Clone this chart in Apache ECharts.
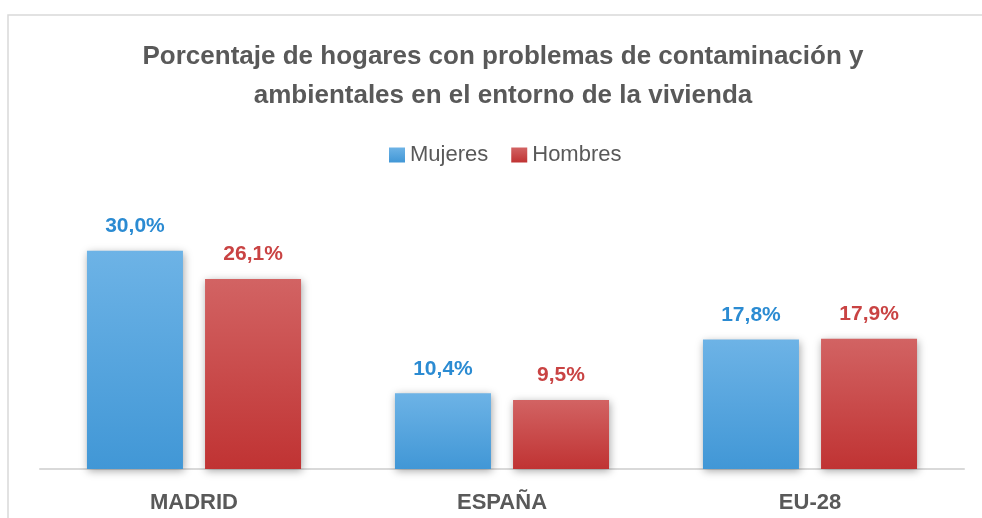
<!DOCTYPE html>
<html>
<head>
<meta charset="utf-8">
<script src="https://cdn.jsdelivr.net/npm/echarts@6/dist/echarts.min.js"></script>
<style>
	html, body { margin: 0; padding: 0; background: #fff; }
	#chart { width: 982px; height: 518px; }
</style>
</head>
<body>
<div id="chart"></div>
<script>
var categories = ['MADRID', 'ESPAÑA', 'EU-28'];
var mujeres = [30.0, 10.4, 17.8];
var hombres = [26.1, 9.5, 17.9];
var seriesNames = ['Mujeres', 'Hombres'];

var font = '"Liberation Sans Narrow", "Arial Narrow", "Liberation Sans", sans-serif';

function fmt(p) {
	return p.value.toFixed(1).replace('.', ',') + '%';
}

function grad(top, bottom) {
	return new echarts.graphic.LinearGradient(0, 0, 0, 1, [
		{ offset: 0, color: top },
		{ offset: 1, color: bottom }
	]);
}

var myChart = echarts.init(document.getElementById('chart'));
myChart.setOption({
	backgroundColor: '#fff',
	animation: false,
	graphic: [{
		type: 'rect',
		shape: { x: 8, y: 15, width: 1000, height: 600 },
		style: { fill: 'none', stroke: '#d9d9d9', lineWidth: 1.5 },
		silent: true
	}],
	title: {
		text: 'Porcentaje de hogares con problemas de contaminación y\nambientales en el entorno de la vivienda',
		left: 503,
		textAlign: 'center',
		top: 37,
		padding: 0,
		textStyle: {
			fontFamily: font,
			fontSize: 26,
			fontWeight: 'bold',
			color: '#595959',
			lineHeight: 39
		}
	},
	legend: {
		data: seriesNames,
		left: 384,
		top: 139,
		itemWidth: 16,
		itemHeight: 15,
		itemGap: 23,
		icon: 'rect',
		textStyle: { fontFamily: font, fontSize: 22, color: '#595959' }
	},
	grid: { left: 40, right: 18, top: 178, bottom: 49 },
	xAxis: {
		type: 'category',
		data: categories,
		axisLine: { lineStyle: { color: '#d9d9d9', width: 2 } },
		axisTick: { show: false },
		axisLabel: {
			margin: 23,
			fontFamily: font,
			fontSize: 22,
			fontWeight: 'bold',
			color: '#595959'
		}
	},
	yAxis: {
		type: 'value',
		min: 0,
		max: 40,
		show: false,
		splitLine: { show: false }
	},
	series: [{
		name: seriesNames[0],
		type: 'bar',
		data: mujeres,
		barWidth: 96,
		barGap: '23%',
		itemStyle: {
			color: grad('#6db3e6', '#4197d6'),
			shadowColor: 'rgba(0,0,0,0.35)',
			shadowBlur: 8,
			shadowOffsetX: 1,
			shadowOffsetY: 2
		},
		label: {
			show: true,
			position: 'top',
			distance: 14,
			formatter: fmt,
			fontFamily: font,
			fontSize: 21,
			fontWeight: 'bold',
			color: '#2b8bd2'
		}
	}, {
		name: seriesNames[1],
		type: 'bar',
		data: hombres,
		barWidth: 96,
		itemStyle: {
			color: grad('#d26363', '#c03333'),
			shadowColor: 'rgba(0,0,0,0.35)',
			shadowBlur: 8,
			shadowOffsetX: 1,
			shadowOffsetY: 2
		},
		label: {
			show: true,
			position: 'top',
			distance: 14,
			formatter: fmt,
			fontFamily: font,
			fontSize: 21,
			fontWeight: 'bold',
			color: '#c94343'
		}
	}]
});
</script>
</body>
</html>
